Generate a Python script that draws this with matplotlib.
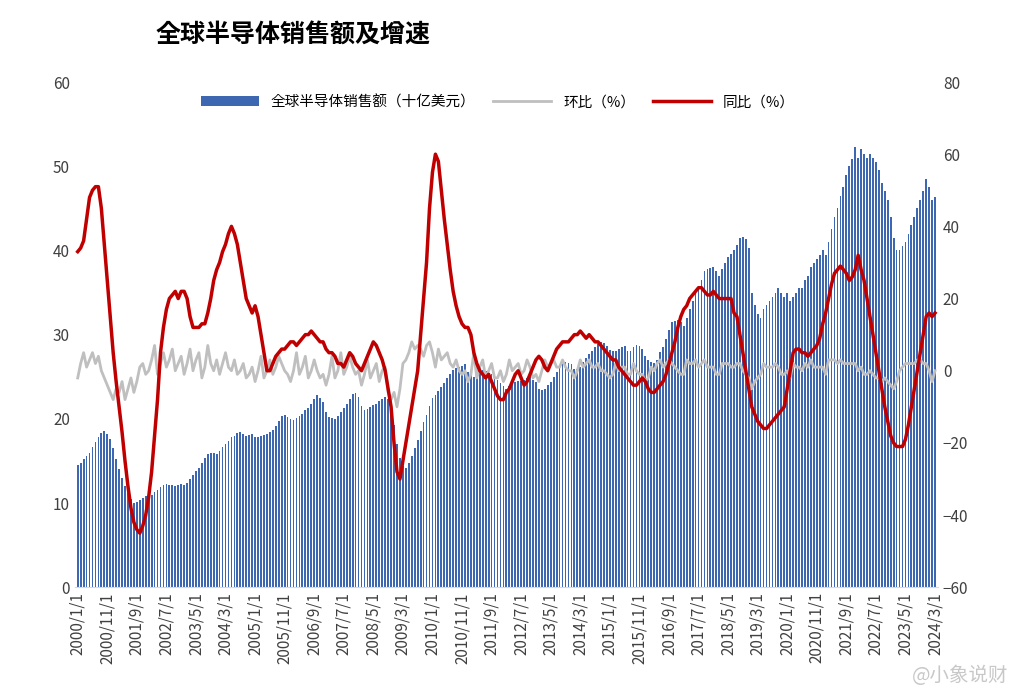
import matplotlib.pyplot as plt
import numpy as np

plt.rcParams["font.family"] = ["Noto Sans CJK SC", "Noto Sans CJK JP", "Noto Sans CJK TC", "DejaVu Sans"]

# monthly series 2000/1 .. 2024/3
sales = [
    14.5, 14.8, 15.2, 15.6, 16.0, 16.6, 17.2, 17.8, 18.3, 18.5, 18.2, 17.6,
    16.5, 15.2, 14.0, 13.0, 12.0, 11.2, 10.5, 10.0, 10.1, 10.4, 10.6, 10.8,
    10.8, 11.0, 11.3, 11.6, 11.9, 12.1, 12.3, 12.2, 12.1, 12.0, 12.1, 12.3,
    12.2, 12.4, 12.8, 13.3, 13.8, 14.2, 14.8, 15.3, 15.8, 16.0, 15.9, 15.8,
    16.2, 16.6, 17.0, 17.4, 17.8, 18.0, 18.3, 18.4, 18.2, 18.0, 18.1, 18.2,
    17.9, 17.8, 18.0, 18.1, 18.2, 18.4, 18.7, 19.2, 19.8, 20.3, 20.5, 20.2,
    20.0, 19.9, 20.1, 20.3, 20.6, 21.0, 21.3, 21.8, 22.3, 22.8, 22.5, 22.0,
    20.8, 20.2, 20.1, 20.0, 20.3, 20.8, 21.3, 21.8, 22.4, 23.0, 23.1, 22.6,
    21.5, 21.0, 21.2, 21.4, 21.6, 21.8, 22.1, 22.4, 22.6, 22.4, 21.0, 19.3,
    17.0, 15.3, 14.4, 14.2, 14.8, 15.6, 16.5, 17.5, 18.5, 19.6, 20.5, 21.5,
    22.5, 22.8, 23.3, 23.8, 24.3, 24.8, 25.3, 25.8, 26.0, 26.2, 26.3, 26.5,
    25.6, 25.2, 25.0, 25.4, 25.6, 25.8, 25.7, 25.5, 25.3, 25.1, 24.6, 24.3,
    23.9, 23.6, 23.9, 24.3, 24.4, 24.5, 24.5, 24.6, 24.8, 25.0, 24.6, 24.4,
    23.5, 23.4, 23.6, 24.0, 24.4, 25.0, 25.6, 26.1, 26.5, 26.7, 26.6, 26.5,
    25.9, 25.9, 26.1, 26.7, 27.2, 27.7, 28.0, 28.5, 28.9, 29.1, 29.0, 28.7,
    28.2, 28.0, 28.1, 28.3, 28.5, 28.6, 28.1, 28.0, 28.5, 28.8, 28.6, 28.3,
    27.5, 27.0, 26.8, 26.6, 27.0, 27.9, 28.5, 29.5, 30.5, 31.5, 31.6, 31.7,
    31.5, 31.0, 32.0, 33.0, 34.0, 35.0, 35.5, 36.5, 37.5, 37.8, 37.9, 38.0,
    37.5, 37.0, 37.8, 38.5, 39.2, 39.6, 40.0, 40.7, 41.5, 41.6, 41.3, 40.3,
    35.0, 33.5, 32.5, 32.0, 33.0, 33.5, 34.0, 34.5, 35.0, 35.5, 35.0, 34.5,
    35.0, 34.0, 34.5, 35.0, 35.5, 35.5, 36.5, 37.0, 38.0, 38.5, 39.0, 39.5,
    40.0, 39.5, 41.0, 42.5, 44.0, 45.0, 46.5, 47.5, 49.0, 50.0, 50.8, 52.3,
    51.0, 52.0, 51.5, 51.0, 51.5, 51.0, 50.5, 49.5, 48.0, 47.0, 46.0, 44.0,
    41.5, 40.0, 40.0, 40.5, 41.0, 42.0, 43.0, 44.0, 45.0, 46.0, 47.0, 48.5,
    47.5, 46.0, 46.3,
]
yoy = [
    33, 34, 36, 42, 48, 50, 51, 51, 45, 35, 25, 15,
    5, -3, -10, -17, -25, -32, -38, -42, -44, -45, -43, -40,
    -35, -28, -18, -8, 5, 12, 17, 20, 21, 22, 20, 22,
    22, 20, 15, 12, 12, 12, 13, 13, 16, 20, 25, 28,
    30, 33, 35, 38, 40, 38, 35, 30, 25, 20, 18, 16,
    18, 15, 10, 5, 0, 0, 2, 4, 5, 6, 6, 7,
    8, 8, 7, 8, 9, 10, 10, 11, 10, 9, 8, 8,
    6, 5, 5, 4, 2, 2, 1, 3, 5, 4, 2, 1,
    0, 2, 4, 6, 8, 7, 5, 3, 0, -5, -10, -20,
    -28, -30, -25, -20, -15, -10, -5, 0, 10, 20, 30, 45,
    55, 60, 58, 50, 42, 35, 28, 22, 18, 15, 13, 12,
    12, 10, 5, 2, 0, -1, -2, -1, -3, -5, -7, -8,
    -8, -6, -5, -3, -1, 0, -2, -4, -3, -1, 1, 3,
    4, 3, 1, 0, 2, 4, 6, 7, 8, 8, 8, 9,
    10, 10, 11, 10, 9, 10, 9, 8, 8, 7, 6, 5,
    4, 3, 3, 1, 0, -1, -2, -3, -4, -4, -3, -2,
    -3, -5, -6, -6, -5, -4, -3, -1, 2, 5, 8, 12,
    15, 17, 18, 20, 21, 22, 23, 23, 22, 21, 21, 22,
    21, 20, 20, 20, 20, 20, 16, 15, 10, 5, 0, -5,
    -10, -12, -14, -15, -16, -16, -15, -14, -13, -12, -11, -10,
    -5, 0, 5, 6, 6, 5, 5, 4, 5, 6, 7, 9,
    13, 16, 20, 24, 27, 28, 29, 28, 27, 25, 26, 28,
    32, 28, 25, 20, 15, 10, 5, 0, -5, -10, -14, -18,
    -20, -21, -21, -21, -19, -15, -10, -5, 0, 5, 10, 15,
    16, 15, 16,
]
mom = [
    -2, 2, 5, 1, 3, 5, 2, 4, 0, -2, -4, -6,
    -8, -5, -6, -3, -8, -5, -2, -6, -3, 1, 2, -1,
    0, 3, 7, -1, 2, 5, 1, 3, 6, 0, 2, 4,
    -1, 2, 6, 0, 3, 5, -2, 1, 7, 2, 0, 3,
    -1, 2, 5, 1, 0, 3, -1, 0, 2, -2, -1, 1,
    -3, 0, 4, -2, 0, 3, -1, 1, 4, 2, 0, -1,
    -3, 0, 5, -1, 1, 4, -2, 0, 3, 0, -2, -1,
    -4, -1, 4, -2, 0, 5, -1, 1, 4, 1, -1, 0,
    -4, -1, 3, -2, 0, 2, -3, 0, 1, -6, -8, -6,
    -10, -5, 2, 3, 5, 8, 6, 7, 6, 4, 7, 8,
    5, 1, 6, 3, 4, 5, 2, 1, 3, 0, -1, 0,
    -3, -1, 5, -2, 1, 3, -2, 0, 2, -2, -2, 0,
    -3, -1, 3, 0, 1, 2, -1, 0, 3, 1, -2, -1,
    -3, 0, 3, 1, 2, 3, 1, 1, 3, 1, 0, 0,
    -2, 0, 3, 1, 2, 3, 1, 1, 2, 0, 0, -1,
    -2, -1, 2, 0, 1, 1, -1, -1, 2, 0, -1, -1,
    -3, -2, 1, 0, 2, 3, 1, 2, 3, 2, 1, 0,
    -1, -1, 3, 2, 2, 3, 1, 2, 3, 1, 1, 1,
    -1, -1, 2, 2, 2, 1, 1, 2, 2, 0, -1, -2,
    -5, -3, -2, -1, 2, 1, 1, 1, 2, 1, -1, -1,
    0, -2, 2, 1, 1, 0, 2, 1, 3, 1, 1, 1,
    1, -1, 3, 3, 3, 2, 3, 2, 2, 2, 2, 2,
    0, 1, -1, -1, 0, -1, -2, -2, -3, -2, -3, -4,
    -5, -3, 0, 1, 2, 2, 2, 2, 3, 3, 2, 2,
    0, -3, 0,
]
months = [f"{2000 + i // 12}/{i % 12 + 1}/1" for i in range(len(sales))]

fig = plt.figure(figsize=(10.24, 6.95), dpi=100)
ax = fig.add_axes([0.073, 0.155, 0.843, 0.727])
x = np.arange(len(sales))
bars = ax.bar(x, sales, width=0.6, color="#3d67b1", label="全球半导体销售额（十亿美元）")
ax.set_ylim(0, 60)
ax.set_xlim(-1, len(sales))
ax.set_yticks(range(0, 61, 10))
ax.set_xticks(x[::10])
ax.set_xticklabels(months[::10], rotation=90, fontsize=10.5)

ax2 = ax.twinx()
l1, = ax2.plot(x, mom, color="#bfbfbf", lw=2, label="环比（%）")
l2, = ax2.plot(x, yoy, color="#c00000", lw=2.5, label="同比（%）")
ax2.set_ylim(-60, 80)
ax2.set_yticks(range(-60, 81, 20))

for a in (ax, ax2):
    for s in a.spines.values():
        s.set_visible(False)
    a.tick_params(length=0, labelsize=11, colors="#404040")
ax.spines["bottom"].set_visible(True)
ax.spines["bottom"].set_color("#d9d9d9")

ax.legend([bars, l1, l2], [bars.get_label(), l1.get_label(), l2.get_label()],
          loc="upper center", bbox_to_anchor=(0.49, 1.0), ncol=3, frameon=False,
          fontsize=10.5, handlelength=4, columnspacing=1.2)

fig.text(0.152, 0.948, "全球半导体销售额及增速", fontsize=18, fontweight="bold", va="center")
fig.text(0.985, 0.02, "@小象说财", fontsize=14, color="#c8c8c8", ha="right")

fig.savefig("out.png")
